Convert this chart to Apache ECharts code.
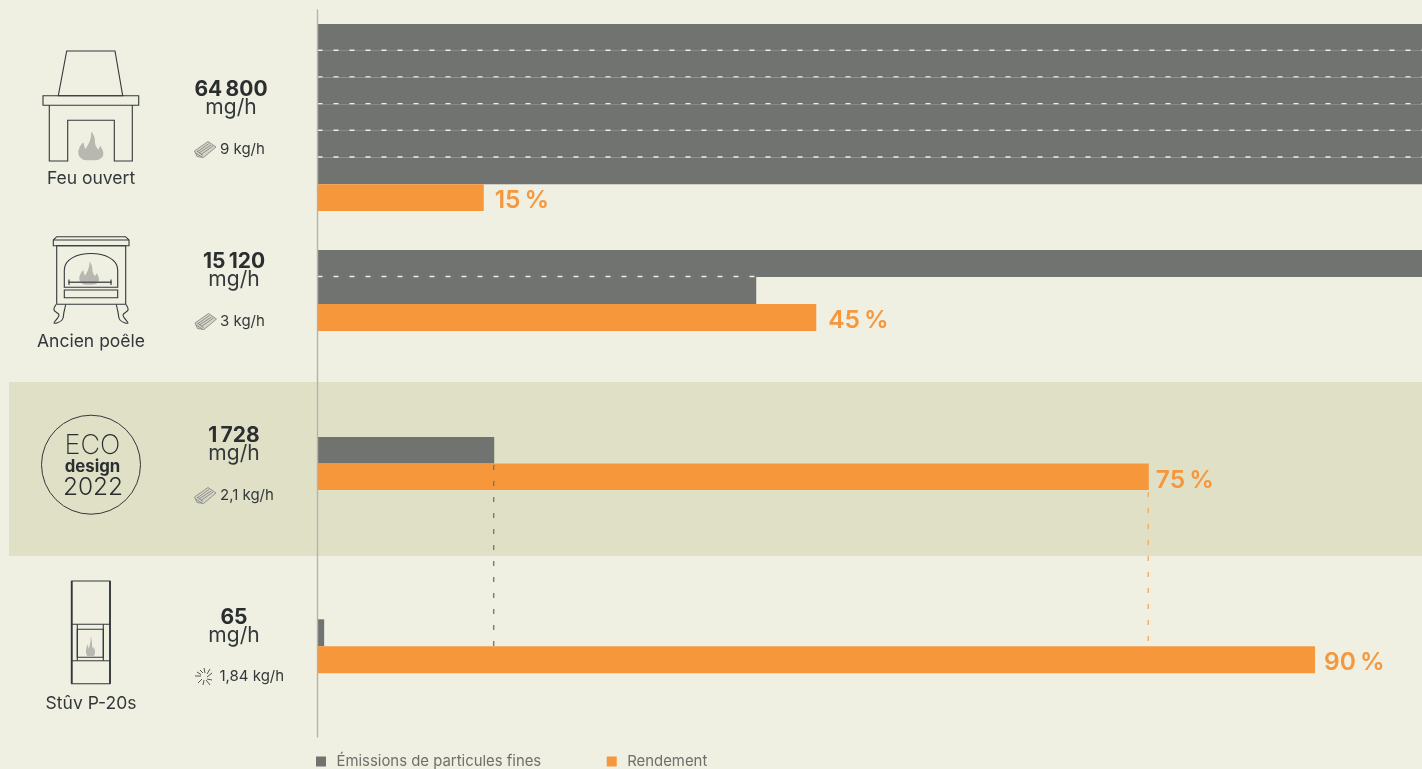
<!DOCTYPE html>
<html><head><meta charset="utf-8">
<style>html,body{margin:0;padding:0;background:#efefe2;overflow:hidden}#c{width:1422px;height:769px}</style>
<script src="https://cdn.jsdelivr.net/npm/echarts@6/dist/echarts.min.js"></script>
</head><body><div id="c"></div>
<script>
// ---- data ----
const products = ['Feu ouvert', 'Ancien poêle', '', 'Stûv P-20s'];
const emissionLabels = ['64\u2009800', '15\u2009120', '1\u2009728', '65'];
const woodLabels = ['9 kg/h', '3 kg/h', '2,1 kg/h', '1,84 kg/h'];
// one bar row per 10 800 mg/h : the long bars wrap on several rows
const emissionRows = [
  [10800, 10800, 10800, 10800, 10800, 10800],
  [10800, 4290],
  [1728],
  [65]
];
const efficiency = [15, 45, 75, 90];
const seriesNames = ['Émissions de particules fines', 'Rendement'];
const ecoDesignEmission = 1728;
const ecoDesignEfficiency = 75;

// ---- style ----
const FONT = 'Inter';
const GREY = '#717370', ORANGE = '#f7973b', BG = '#efefe2', BAND = '#e0e0c7', INK = '#2a2e2e', FLAME = '#b8b8b1';
const ROW_MAX = 10800, PCT_MAX = 99.65;
const gridTops = [24, 250, 437, 619.3];
const gridHeights = [187, 81, 53, 54];
const labelDistance = [11, 12, 7, 9];
const labelDrop = [3, 3, 4, 3];

const grids = [], xAxes = [], yAxes = [], series = [];
const hiddenX = (gridIndex, max) => ({type:'value', gridIndex, min:0, max, show:false});
emissionRows.forEach((rows, i) => {
  const n = rows.length + 1;
  const cats = rows.map((_, k) => 'rang ' + (k + 1)).concat(['rendement']);
  grids.push({left:317.5, width:1104.5, top:gridTops[i], height:gridHeights[i]});
  xAxes.push(hiddenX(i, ROW_MAX), hiddenX(i, PCT_MAX));
  yAxes.push({type:'category', gridIndex:i, data:cats, inverse:true, show:false},
             {type:'value', gridIndex:i, min:0, max:n, inverse:true, show:false});
  series.push({
    name:seriesNames[0], type:'bar', xAxisIndex:2*i, yAxisIndex:2*i, barWidth:'100%', barGap:'-100%',
    itemStyle:{color:GREY}, data:rows.concat([null]), silent:true
  });
  series.push({
    name:seriesNames[1], type:'bar', xAxisIndex:2*i+1, yAxisIndex:2*i, barWidth:'100%', barGap:'-100%',
    itemStyle:{color:ORANGE}, silent:true,
    label:{show:true, position:'right', distance:labelDistance[i], formatter:'{c}\u2009%',
      fontFamily:FONT, fontSize:24.5, fontWeight:600, color:ORANGE, offset:[0,labelDrop[i]]},
    data:rows.map(() => null).concat([efficiency[i]])
  });
  // white dashes between wrapped rows
  rows.slice(0, -1).forEach((_, k) => {
    series.push({
      name:'sep', type:'line', xAxisIndex:2*i, yAxisIndex:2*i+1, symbol:'none', silent:true, z:4,
      lineStyle:{color:BG, width:1.4, type:[5,11]},
      data:[[0, k+0.98], [rows[k+1], k+0.98]]
    });
  });
});

// overlay grid: baseline + dashed connectors, same horizontal scales
const OV = grids.length;
grids.push({left:317.5, width:1104.5, top:10, height:727});
xAxes.push(hiddenX(OV, ROW_MAX), hiddenX(OV, PCT_MAX));
yAxes.push({type:'value', gridIndex:OV, min:10, max:737, inverse:true, z:6,
  axisLine:{show:true, onZero:false, lineStyle:{color:'#b4b4aa', width:1.4}},
  axisTick:{show:false}, axisLabel:{show:false}, splitLine:{show:false}});
series.push({name:'guide1', type:'line', xAxisIndex:2*OV, yAxisIndex:2*OV, symbol:'none', silent:true, z:5,
  lineStyle:{color:GREY, width:1.3, type:[5,11]},
  data:[[ecoDesignEmission-5, 465], [ecoDesignEmission-5, 646]]});
series.push({name:'guide2', type:'line', xAxisIndex:2*OV+1, yAxisIndex:2*OV, symbol:'none', silent:true, z:5,
  lineStyle:{color:'#f4a860', width:1.3, type:[5,11]},
  data:[[ecoDesignEfficiency-0.05, 492], [ecoDesignEfficiency-0.05, 642]]});

// ---- drawn decoration (icons, side texts) ----
const LINE = {stroke:'#33383a', lineWidth:1.1, fill:null};
const poly = (points, style, extra) => Object.assign({type:'polyline', shape:Object.assign({points}, extra||{}), style:Object.assign({}, LINE, style||{}), silent:true, z:3});
const closed = (points, style) => ({type:'polygon', shape:{points}, style:Object.assign({}, LINE, style||{}), silent:true, z:3});
const rect = (x,y,width,height,style) => ({type:'rect', shape:{x,y,width,height}, style:Object.assign({}, LINE, style||{}), silent:true, z:3});
const text = (t,x,y,size,weight,align,color) => ({type:'text', x, y, silent:true, z:3,
  style:{text:t, fontFamily:FONT, fontSize:size, fontWeight:weight, fill:color||INK, textAlign:align||'center', textVerticalAlign:'middle'}});
const FLAME_SHAPE = [[.5,1],[.2,.98],[.03,.85],[0,.68],[.08,.5],[.2,.38],[.28,.6],[.42,.4],[.5,.2],[.53,0],[.65,.2],[.68,.45],[.8,.62],[.88,.5],[1,.72],[.97,.88],[.8,.98]];
const flame = (x,y,w,h) => ({type:'polygon', silent:true, z:3, shape:{smooth:.25, points:FLAME_SHAPE.map(p=>[x+p[0]*w, y+p[1]*h])}, style:{fill:FLAME}});
const woodIcon = (dx,dy) => {
  const c = {stroke:'#7e7f7a', lineWidth:.8};
  const out = [closed([[194.5,151],[208,141.5],[216,147],[203.5,157.5],[197,156.5]], {stroke:'#7e7f7a', lineWidth:.8, fill:'#d4d4c8'})];
  [[[197,152],[209,143.5]],[[199,153],[211,145]],[[201,154.5],[213,146]],[[195.5,153],[202,157]],[[197,151],[203,155.5]]].forEach(l => out.push(poly(l, c)));
  return out.map(e => { e.x = dx; e.y = dy; return e; });
};
const sparkIcon = (dx,dy) => [
  [[195,676],[201,676]],[[197,672],[201,674.5]],[[204,668],[205,673]],[[210,669],[207,674]],[[212,673],[207,677]],
  [[212,680],[207,679]],[[210,685],[206,680]],[[203,685],[204,680]],[[198,683],[202,679]],[[200,670],[203,673]]
].map(l => { const e = poly(l, {stroke:'#55585a', lineWidth:1}); e.x=dx; e.y=dy; return e; });

const elements = [
  {type:'rect', shape:{x:9,y:382,width:1413,height:174}, style:{fill:BAND}, silent:true, z:-5},
  // open fire
  closed([[66.7,51],[115,51],[122.7,95.7],[58.3,95.7]]),
  rect(43,95.7,95.7,9.6),
  poly([[49.3,105.3],[49.3,161],[67.7,161],[67.7,120.3],[114.3,120.3],[114.3,161],[132.3,161],[132.3,105.3]]),
  flame(78.3,131.7,25,28.5),
  // old stove
  closed([[53.3,245.7],[53.3,240],[56.7,236.7],[125.5,236.7],[129,240],[129,245.7]]),
  poly([[53.3,240],[129,240]]),
  rect(56.7,245.7,69,58.6),
  {type:'bezierCurve', silent:true, z:3, shape:{x1:64.3,y1:270,x2:117.7,y2:270,cpx1:64.3,cpy1:248,cpx2:117.7,cpy2:248}, style:Object.assign({},LINE)},
  poly([[64.3,270],[64.3,287.3],[117.7,287.3],[117.7,270]]),
  rect(64.3,290,53.4,7.7),
  flame(79.3,261.7,19.7,23),
  poly([[68.3,282.3],[111.7,282.3]], {stroke:'#55585a', lineWidth:1.4}),
  poly([[69,279.5],[69,285]]), poly([[111,279.5],[111,285]]),
  poly([[56,304.5],[54,310],[59,315],[54,323],[62,320],[64,312],[65.7,304.5]], null, {smooth:.4}),
  poly([[126,304.5],[128,310],[123,315],[128,323],[120,320],[118,312],[116.3,304.5]], null, {smooth:.4}),
  // eco design
  {type:'circle', silent:true, z:3, shape:{cx:91,cy:464.7,r:49.5}, style:Object.assign({},LINE,{lineWidth:1})},
  text('ECO',92.5,446,27,200),
  text('design',92.5,467,16.8,700),
  text('2022',93,488,24.5,300),
  // Stuv
  rect(71.7,581,38.3,102.7),
  poly([[71.7,581],[71.7,683.7]],{lineWidth:1.8}), poly([[110,581],[110,683.7]],{lineWidth:1.8}),
  poly([[71.7,624.3],[110,624.3]]), poly([[71.7,660.7],[110,660.7]]),
  poly([[77.3,624.3],[77.3,660.7]]), poly([[103.3,624.3],[103.3,660.7]]),
  rect(77.3,629.3,26,28),
  flame(86,636.7,9,20),
  // side texts
];
const nameY = [179, 342, null, 704];
const valueX = [231, 234, 234, 234];
const valueY = [90, 262, 436, 618];
const woodY = [149.5, 321.5, 495.5, 676.5];
products.forEach((p,i) => {
  if (p) elements.push(text(p,91,nameY[i],17.5,400,'center','#33383a'));
  elements.push(text(emissionLabels[i],valueX[i],valueY[i],21,650));
  elements.push(text('mg/h',valueX[i],valueY[i]+18,21,400,'center','#33383a'));
  elements.push(text(woodLabels[i], i===3?219.5:220, woodY[i], 15, 400, 'left', '#33383a'));
});
elements.push(...woodIcon(0,0), ...woodIcon(0.5,172), ...woodIcon(0,346), ...sparkIcon(0,0));

echarts.init(document.getElementById('c'), null, {renderer:'canvas'}).setOption({
  animation:false,
  backgroundColor:BG,
  grid:grids, xAxis:xAxes, yAxis:yAxes, series,
  legend:{data:seriesNames, left:316, top:754, itemWidth:10, itemHeight:10, itemGap:65.5, icon:'rect', selectedMode:false, padding:0,
    textStyle:{fontFamily:FONT, fontSize:14.9, color:'#6f706c', padding:[0,0,0,5.5]}, itemStyle:{borderWidth:0}},
  graphic:{elements}
});
</script></body></html>
